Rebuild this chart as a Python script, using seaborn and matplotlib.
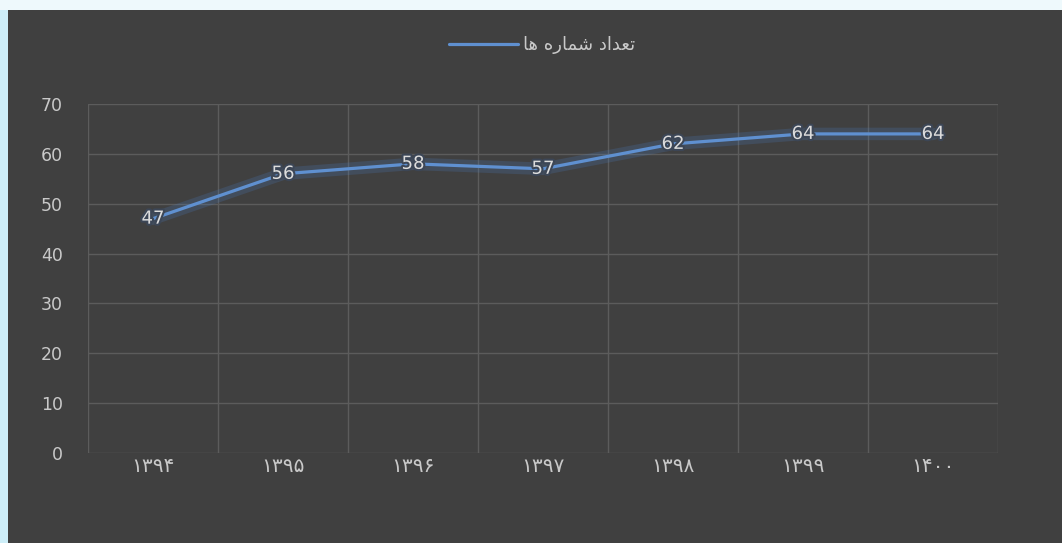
import matplotlib
matplotlib.use("Agg")
import matplotlib.pyplot as plt
import matplotlib.patheffects as pe
from matplotlib.patches import Rectangle
import seaborn as sns
import pandas as pd

# ---- data ----
years = ["۱۳۹۴", "۱۳۹۵", "۱۳۹۶", "۱۳۹۷", "۱۳۹۸", "۱۳۹۹", "۱۴۰۰"]
counts = [47, 56, 58, 57, 62, 64, 64]
series_name = "تعداد شماره ها"
y_ticks = [0, 10, 20, 30, 40, 50, 60, 70]

# simple Arabic/Persian shaping for display (matplotlib has no shaping/bidi)
FORMS = {  # letter: (isolated, final, initial, medial)
    "ت": ("\uFE95", "\uFE96", "\uFE97", "\uFE98"),
    "ع": ("\uFEC9", "\uFECA", "\uFECB", "\uFECC"),
    "د": ("\uFEA9", "\uFEAA", None, None),
    "ا": ("\uFE8D", "\uFE8E", None, None),
    "ش": ("\uFEB5", "\uFEB6", "\uFEB7", "\uFEB8"),
    "م": ("\uFEE1", "\uFEE2", "\uFEE3", "\uFEE4"),
    "ر": ("\uFEAD", "\uFEAE", None, None),
    "ه": ("\uFEE9", "\uFEEA", "\uFEEB", "\uFEEC"),
}


def shape_word(w):
    out = []
    n = len(w)
    for i, ch in enumerate(w):
        f = FORMS.get(ch)
        if f is None:
            out.append(ch)
            continue
        prev_joins = i > 0 and FORMS.get(w[i - 1]) is not None and FORMS[w[i - 1]][2] is not None
        next_exists = i < n - 1 and FORMS.get(w[i + 1]) is not None
        can_join_next = f[2] is not None and next_exists
        if prev_joins and can_join_next:
            out.append(f[3])
        elif prev_joins:
            out.append(f[1])
        elif can_join_next:
            out.append(f[2])
        else:
            out.append(f[0])
    return "".join(out)


def shape_rtl(s):
    words = [shape_word(w) for w in s.split(" ")]
    return " ".join(w[::-1] for w in words[::-1])


df = pd.DataFrame({"year": years, "count": counts, "series": shape_rtl(series_name)})

# ---- style ----
sns.set_style("dark")
plt.rcParams["font.family"] = ["DejaVu Sans"]
BG = "#404040"
GRID = "#5c5c5c"
TXT = "#c9c9c9"
LINE = "#5f90d0"

W, H = 1062, 543
fig = plt.figure(figsize=(W / 100, H / 100), dpi=100, facecolor=BG)
fig.patches.append(Rectangle((0, 0), 8 / W, 1, transform=fig.transFigure,
                             facecolor="#cdeef8", edgecolor="none", zorder=-1))
fig.patches.append(Rectangle((0, 1 - 10 / H), 1, 10 / H, transform=fig.transFigure,
                             facecolor="#eef9fc", edgecolor="none", zorder=-1))

ax = fig.add_axes([88 / W, 90 / H, 910 / W, 349 / H])
ax.set_facecolor(BG)

sns.lineplot(data=df, x="year", y="count", hue="series", palette=[LINE], sort=False,
             linewidth=2.3, ax=ax,
             path_effects=[pe.Stroke(linewidth=9, foreground="#4a7cc0", alpha=0.22), pe.Normal()])

for i, v in enumerate(counts):
    ax.text(i, v, str(v), ha="center", va="center", fontsize=13, color="#dcdcdc", zorder=5,
            path_effects=[pe.withStroke(linewidth=3, foreground="#3c4656")])

ax.set_xlim(-0.5, len(years) - 0.5)
ax.set_ylim(0, 70)
ax.set_yticks(y_ticks)
ax.set_xticks(range(len(years)))
ax.set_xticklabels(years)
ax.set_xticks([i - 0.5 for i in range(len(years) + 1)], minor=True)
ax.grid(False)
ax.grid(axis="y", which="major", color=GRID, linewidth=1)
ax.grid(axis="x", which="minor", color=GRID, linewidth=1)
ax.tick_params(axis="both", which="both", length=0)
ax.tick_params(axis="y", pad=18, labelsize=12.5, labelcolor=TXT)
ax.tick_params(axis="x", pad=3, labelsize=14.5, labelcolor=TXT)
for s in ax.spines.values():
    s.set_visible(False)
ax.set_xlabel("")
ax.set_ylabel("")

leg = ax.legend(loc="center", bbox_to_anchor=(542 / W, 1 - 45 / H), bbox_transform=fig.transFigure,
                frameon=False, handlelength=3.8, fontsize=13, labelcolor=TXT, handletextpad=0.3)
for line in leg.get_lines():
    line.set_linewidth(2.3)
    line.set_path_effects([])

fig.savefig("out.png", dpi=100, facecolor=fig.get_facecolor())
